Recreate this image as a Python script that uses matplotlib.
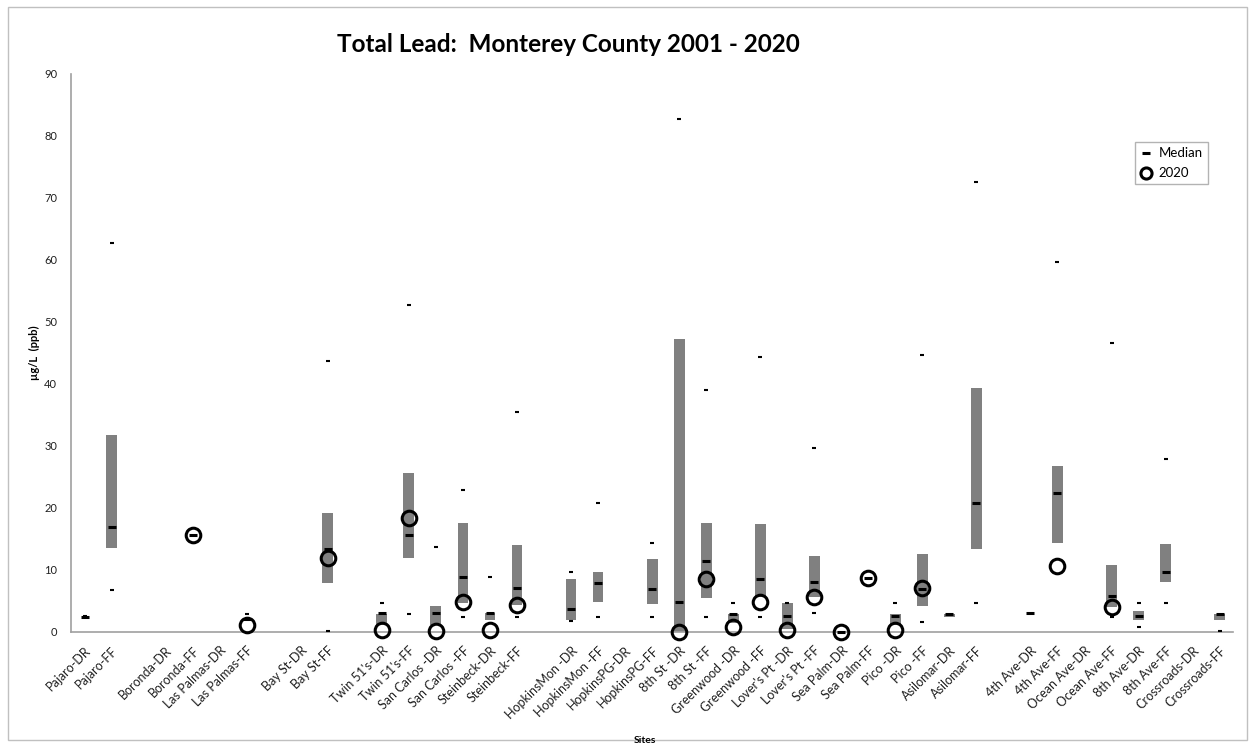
import numpy as np
import matplotlib
matplotlib.use('Agg')
import matplotlib.pyplot as plt
from matplotlib.lines import Line2D
from matplotlib.patches import Rectangle

plt.rcParams['font.family'] = ['Lato', 'DejaVu Sans']

nan = np.nan

sites = ['Pajaro-DR', 'Pajaro-FF', '', 'Boronda-DR', 'Boronda-FF', 'Las Palmas-DR', 'Las Palmas-FF', '',
         'Bay St-DR', 'Bay St-FF', '', "Twin 51's-DR", "Twin 51's-FF", 'San Carlos -DR', 'San Carlos -FF',
         'Steinbeck-DR', 'Steinbeck-FF', '', 'HopkinsMon -DR', 'HopkinsMon -FF', 'HopkinsPG-DR', 'HopkinsPG-FF',
         '8th St -DR', '8th St -FF', 'Greenwood -DR', 'Greenwood -FF', "Lover's Pt -DR", "Lover's Pt -FF",
         'Sea Palm-DR', 'Sea Palm-FF', 'Pico -DR', 'Pico -FF', 'Asilomar-DR', 'Asilomar-FF', '',
         '4th Ave-DR', '4th Ave-FF', 'Ocean Ave-DR', 'Ocean Ave-FF', '8th Ave-DR', '8th Ave-FF',
         'Crossroads-DR', 'Crossroads-FF']

# 25th / 75th percentile box
q_low = [nan, 13.6, nan, nan, nan, nan, nan, nan, nan, 7.9, nan, 1.2, 11.9, 1.2, 4.6, 1.9, 4.4, nan,
         2.0, 4.8, nan, 4.5, 0.0, 5.5, 1.5, 5.7, 0.5, 5.7, nan, nan, 1.1, 4.2, 2.4, 13.4, nan,
         nan, 14.4, nan, 4.1, 2.0, 8.1, nan, 2.0]
q_high = [nan, 31.8, nan, nan, nan, nan, nan, nan, nan, 19.2, nan, 2.9, 25.6, 4.2, 17.5, 3.0, 14.0, nan,
          8.5, 9.7, nan, 11.8, 47.3, 17.6, 2.9, 17.4, 4.7, 12.3, nan, nan, 2.9, 12.5, 2.9, 39.4, nan,
          nan, 26.8, nan, 10.8, 3.4, 14.2, nan, 2.9]
median = [2.4, 16.9, nan, nan, 15.6, nan, 2.1, nan, nan, 13.4, nan, 3.0, 15.7, 3.0, 8.9, 3.0, 7.1, nan,
          3.7, 7.9, nan, 6.9, 4.8, 11.5, 2.9, 8.5, 2.5, 8.1, 0.0, 8.7, 2.6, 7.0, 2.9, 20.8, nan,
          3.0, 22.4, nan, 5.8, 2.6, 9.7, nan, 2.9]
v_max = [2.5, 62.7, nan, nan, nan, nan, 2.9, nan, nan, 43.7, nan, 4.7, 52.7, 13.7, 22.9, 8.9, 35.5, nan,
         9.7, 20.8, nan, 14.4, 82.7, 39.0, 4.7, 44.4, 4.7, 29.7, nan, nan, 4.7, 44.7, nan, 72.6, nan,
         nan, 59.7, nan, 46.6, 4.7, 27.9, nan, nan]
v_min = [nan, 6.8, nan, nan, nan, nan, nan, nan, nan, 0.2, nan, nan, 2.9, nan, 2.4, nan, 2.4, nan,
         1.8, 2.4, nan, 2.4, nan, 2.4, nan, 2.4, nan, 3.0, nan, nan, nan, 1.6, nan, 4.7, nan,
         nan, nan, nan, 2.4, 0.8, 4.7, nan, 0.2]
y2020 = [nan, nan, nan, nan, 15.6, nan, 1.2, nan, nan, 11.9, nan, 0.3, 18.4, 0.1, 4.8, 0.3, 4.4, nan,
         nan, nan, nan, nan, 0.0, 8.5, 0.8, 4.9, 0.3, 5.7, 0.0, 8.7, 0.3, 7.1, nan, nan, nan,
         nan, 10.6, nan, 4.1, nan, nan, nan, nan]

x = np.arange(len(sites))
q_low = np.array(q_low)
q_high = np.array(q_high)

fig = plt.figure(figsize=(12.55, 7.47), dpi=100)
ax = fig.add_axes([0.0566, 0.154, 0.926, 0.747])

ax.bar(x, q_high - q_low, bottom=q_low, width=0.4, color='#808080', zorder=2)
ax.plot(x, v_max, ls='none', marker='_', ms=3.2, mew=1.5, color='black', zorder=3)
ax.plot(x, v_min, ls='none', marker='_', ms=3.2, mew=1.5, color='black', zorder=3)
ax.plot(x, median, ls='none', marker='_', ms=6, mew=2.2, color='black', zorder=4, clip_on=False)
ax.plot(x, y2020, ls='none', marker='o', ms=10.5, mfc='none', mec='black', mew=2.2, zorder=5, clip_on=False)

ax.set_xlim(-0.5, len(sites) - 0.5)
ax.set_ylim(0, 90)
ax.set_yticks(range(0, 91, 10))
ax.set_xticks(x)
ax.set_xticklabels(sites, rotation=45, ha='right', rotation_mode='anchor', fontsize=9, color='#202020')
ax.tick_params(axis='y', labelsize=8, length=0, pad=10, labelcolor='#202020')
ax.tick_params(axis='x', length=0, pad=9)
for s in ['top', 'right']:
    ax.spines[s].set_visible(False)
for s in ['left', 'bottom']:
    ax.spines[s].set_color('#a0a0a0')
    ax.spines[s].set_linewidth(1.2)

ax.set_title('Total Lead:  Monterey County 2001 - 2020', fontsize=17.5, fontweight='bold', pad=16, x=0.428)
ax.set_ylabel('µg/L  (ppb)', fontsize=8, fontweight='bold', labelpad=3)
fig.text(0.514, 0.005, 'Sites', fontsize=7.5, fontweight='bold', ha='center')

handles = [Line2D([], [], ls='none', marker='_', ms=6, mew=2.2, color='black'),
           Line2D([], [], ls='none', marker='o', ms=8, mfc='none', mec='black', mew=2.2)]
leg = ax.legend(handles, ['Median', '2020'], loc='upper left', bbox_to_anchor=(0.91, 0.89),
                fontsize=9.5, frameon=True, fancybox=False, edgecolor='#a0a0a0',
                handlelength=0.8, handletextpad=0.6, borderpad=0.4, labelspacing=0.6)
leg.get_frame().set_linewidth(1.0)

fig.patches.append(Rectangle((0.006, 0.01), 0.988, 0.98, transform=fig.transFigure,
                             fill=False, edgecolor='#c0c0c0', lw=1))

fig.savefig('out.png', dpi=100)
